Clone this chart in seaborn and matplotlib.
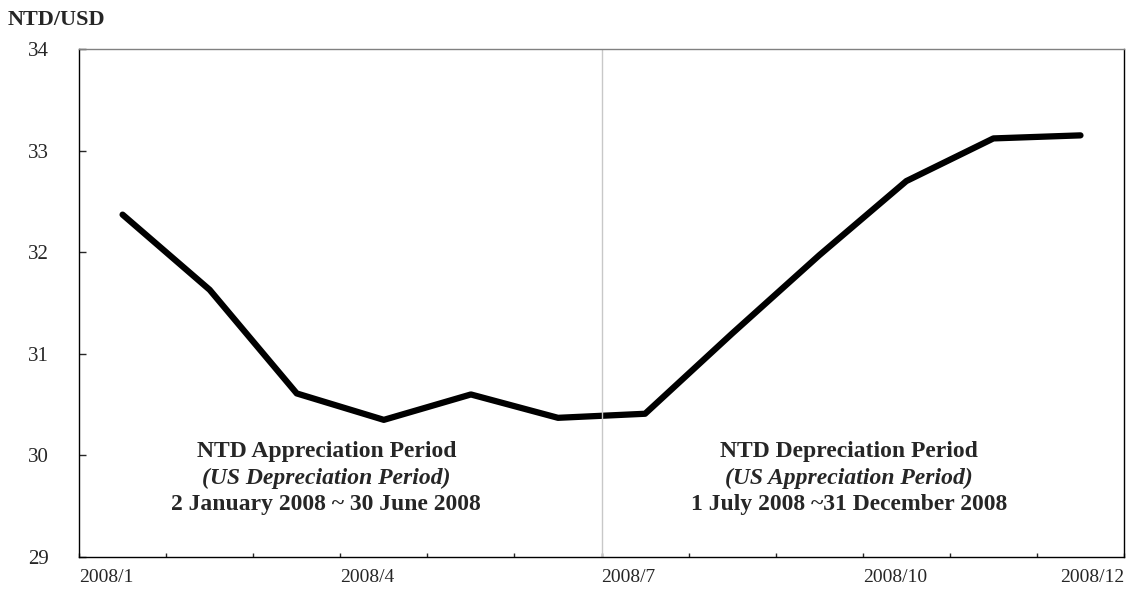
import numpy as np
import pandas as pd
import matplotlib
matplotlib.use("Agg")
import matplotlib.pyplot as plt
import seaborn as sns

months = ["2008/1", "2008/2", "2008/3", "2008/4", "2008/5", "2008/6",
          "2008/7", "2008/8", "2008/9", "2008/10", "2008/11", "2008/12"]
rate = [32.37, 31.63, 30.61, 30.35, 30.60, 30.37,
        30.41, 31.20, 31.97, 32.70, 33.12, 33.15]
shown_labels = ["2008/1", "2008/4", "2008/7", "2008/10", "2008/12"]
yticks = [29, 30, 31, 32, 33, 34]

df = pd.DataFrame({"pos": np.arange(len(months)), "rate": rate})

sns.set_style("ticks")
plt.rcParams["font.family"] = ["Liberation Serif", "DejaVu Serif"]

fig = plt.figure(figsize=(11.29, 5.89), dpi=100)
ax = fig.add_axes([0.0700, 0.0543, 0.9256, 0.8625])

sns.lineplot(data=df, x="pos", y="rate", color="black", linewidth=4.5, ax=ax)

# split between the two periods
ax.axvline(5.5, color="#c8c8c8", linewidth=1)

ax.set_xlim(-0.5, len(months) - 0.5)
ax.set_ylim(29, 34)
ax.set_yticks(yticks)
ax.set_yticklabels([str(v) for v in yticks], fontsize=15)
ax.set_xticks(np.arange(len(months) + 1) - 0.5)
ax.set_xticklabels([])
ax.tick_params(axis="y", direction="in", length=5, width=1, pad=22)
ax.tick_params(axis="x", direction="in", length=3, width=1)
ax.set_xlabel("")
ax.set_ylabel("")

for s in ["left", "bottom", "right"]:
    ax.spines[s].set_visible(True)
    ax.spines[s].set_color("black")
    ax.spines[s].set_linewidth(1)
ax.spines["top"].set_visible(True)
ax.spines["top"].set_color("#808080")
ax.spines["top"].set_linewidth(1)

trans = ax.get_xaxis_transform()
for lab in shown_labels:
    i = months.index(lab)
    if i == len(months) - 1:
        ax.text(i + 0.5, -0.024, lab, transform=trans, ha="right", va="top", fontsize=14)
    else:
        ax.text(i - 0.5, -0.024, lab, transform=trans, ha="left", va="top", fontsize=14)

fig.text(0.007, 0.966, "NTD/USD", fontsize=16, fontweight="bold", ha="left", va="center")

ax.text(2.34, 30.04, "NTD Appreciation Period", ha="center", va="center",
        fontsize=17, fontweight="bold")
ax.text(2.34, 29.775, "(US Depreciation Period)", ha="center", va="center",
        fontsize=17, fontweight="bold", fontstyle="italic")
ax.text(2.34, 29.52, "2 January 2008 ~ 30 June 2008", ha="center", va="center",
        fontsize=17, fontweight="bold")

ax.text(8.34, 30.04, "NTD Depreciation Period", ha="center", va="center",
        fontsize=17, fontweight="bold")
ax.text(8.34, 29.775, "(US Appreciation Period)", ha="center", va="center",
        fontsize=17, fontweight="bold", fontstyle="italic")
ax.text(8.34, 29.52, "1 July 2008 ~31 December 2008", ha="center", va="center",
        fontsize=17, fontweight="bold")

fig.savefig("out.png", dpi=100)
